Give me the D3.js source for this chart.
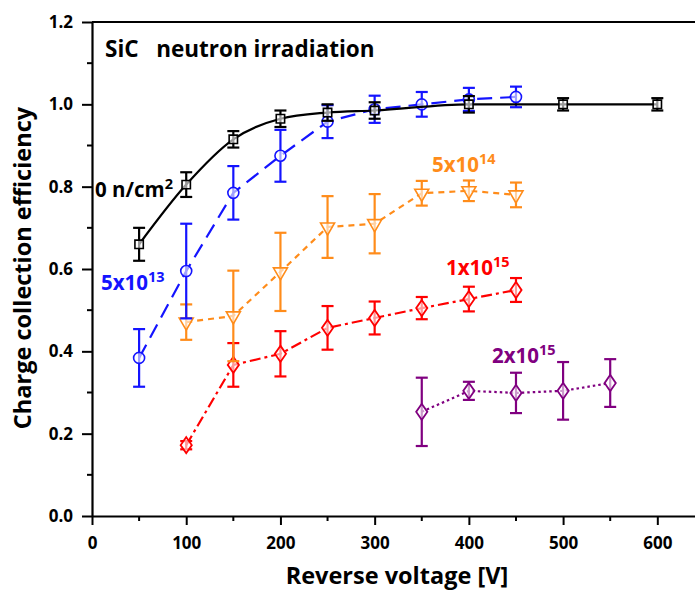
<!DOCTYPE html>
<html><head><meta charset="utf-8">
<script src="https://cdn.jsdelivr.net/npm/d3@7"></script>
<style>
body{margin:0;background:#fff;}
svg text{font-family:"Open Sans",Lato,sans-serif;font-weight:bold;}
</style></head>
<body><svg id="c" width="695" height="590"></svg>
<script>
// ---- data ----
const xTicks = [0,100,200,300,400,500,600];
const yTicks = [0.0,0.2,0.4,0.6,0.8,1.0,1.2];

const v0   = [50,100,150,200,250,300,400,500,600];
const cce0 = [0.66,0.805,0.915,0.965,0.98,0.985,1.0,1.0,1.0];
const err0 = [0.04,0.03,0.02,0.02,0.02,0.02,0.02,0.015,0.015];

const v13   = [50,100,150,200,250,300,350,400,450];
const cce13 = [0.384,0.595,0.785,0.875,0.958,0.988,1.0,1.012,1.018];
const err13 = [0.07,0.115,0.065,0.063,0.04,0.033,0.03,0.028,0.025];

const v14   = [100,150,200,250,300,350,400,450];
const cce14 = [0.471,0.486,0.593,0.702,0.71,0.784,0.79,0.78];
const err14 = [0.043,0.11,0.095,0.075,0.072,0.03,0.025,0.03];

const v15   = [100,150,200,250,300,350,400,450];
const cce15 = [0.172,0.367,0.394,0.457,0.481,0.505,0.527,0.549];
const err15 = [0.01,0.053,0.055,0.053,0.04,0.027,0.03,0.029];

const v2e15   = [350,400,450,500,550];
const cce2e15 = [0.253,0.304,0.299,0.304,0.323];
const err2e15 = [0.083,0.022,0.049,0.07,0.058];

const labelBase = ["0 n/cm","5x10","5x10","1x10","2x10"];
const labelSup  = ["2","13","14","15","15"];

// ---- chart ----
const svg = d3.select("#c");
const x = d3.scaleLinear().domain([0,640]).range([92,695]);
const y = d3.scaleLinear().domain([0,1.2]).range([516,22]);

// axes
const gx = svg.append("g").attr("transform","translate(0,516)")
  .call(d3.axisBottom(x).tickValues(xTicks).tickFormat(d3.format("d")).tickSize(9).tickSizeOuter(0).tickPadding(11));
const gy = svg.append("g").attr("transform","translate(92,0)")
  .call(d3.axisLeft(y).tickValues(yTicks).tickFormat(d3.format(".1f")).tickSize(10).tickSizeOuter(0).tickPadding(9));
[gx,gy].forEach(g=>{
  g.select(".domain").attr("stroke","#000").attr("stroke-width",2.2);
  g.selectAll(".tick line").attr("stroke","#000").attr("stroke-width",2);
  g.selectAll(".tick text").attr("fill","#000").style("font-size","17px");
});
gx.selectAll(".tick text").attr("y",21);
// minor ticks
const xMinor = d3.range(50,640,100);
const yMinor = d3.range(0.1,1.2,0.2);
svg.append("g").selectAll("line").data(xMinor).join("line")
  .attr("x1",d=>x(d)).attr("x2",d=>x(d)).attr("y1",516).attr("y2",521)
  .attr("stroke","#000").attr("stroke-width",2);
svg.append("g").selectAll("line").data(yMinor).join("line")
  .attr("y1",d=>y(d)).attr("y2",d=>y(d)).attr("x1",92).attr("x2",87)
  .attr("stroke","#000").attr("stroke-width",2);
// top frame
svg.append("line").attr("x1",x(0)).attr("x2",x(640)).attr("y1",y(1.2)).attr("y2",y(1.2))
  .attr("stroke","#000").attr("stroke-width",2.2);

// axis titles
svg.append("text").attr("x",397).attr("y",584).attr("text-anchor","middle")
  .style("font-size","23.5px").text("Reverse voltage [V]");
svg.append("text").attr("transform","translate(31,268) rotate(-90)").attr("text-anchor","middle")
  .style("font-size","23.5px").text("Charge collection efficiency");
svg.append("text").attr("x",105).attr("y",57).style("font-size","22.5px").attr("xml:space","preserve")
  .text("SiC   neutron irradiation");

// series
const series = [
  {v:v0, c:cce0, e:err0, color:"#000000", dash:null, curve:d3.curveMonotoneX, marker:"square"},
  {v:v13, c:cce13, e:err13, color:"#1414ff", dash:"15,8", curve:d3.curveLinear, marker:"circle"},
  {v:v14, c:cce14, e:err14, color:"#ff8c1a", dash:"6,5", curve:d3.curveLinear, marker:"tri"},
  {v:v15, c:cce15, e:err15, color:"#ff0000", dash:"11,4,3,4", curve:d3.curveLinear, marker:"diamond"},
  {v:v2e15, c:cce2e15, e:err2e15, color:"#800080", dash:"2.5,3", curve:d3.curveLinear, marker:"diamond"},
];
const capW = 6;
series.slice().reverse().forEach(s=>{
  const pts = s.v.map((d,i)=>({v:d,c:s.c[i],e:s.e[i]}));
  const g = svg.append("g");
  g.append("path").datum(pts)
    .attr("d", d3.line().x(d=>x(d.v)).y(d=>y(d.c)).curve(s.curve))
    .attr("fill","none").attr("stroke",s.color).attr("stroke-width",2.2)
    .attr("stroke-dasharray",s.dash);
  const eb = g.selectAll(".eb").data(pts).join("g");
  eb.append("line").attr("x1",d=>x(d.v)).attr("x2",d=>x(d.v))
    .attr("y1",d=>y(d.c-d.e)).attr("y2",d=>y(d.c+d.e)).attr("stroke",s.color).attr("stroke-width",2.2);
  eb.append("line").attr("x1",d=>x(d.v)-capW).attr("x2",d=>x(d.v)+capW)
    .attr("y1",d=>y(d.c-d.e)).attr("y2",d=>y(d.c-d.e)).attr("stroke",s.color).attr("stroke-width",2.2);
  eb.append("line").attr("x1",d=>x(d.v)-capW).attr("x2",d=>x(d.v)+capW)
    .attr("y1",d=>y(d.c+d.e)).attr("y2",d=>y(d.c+d.e)).attr("stroke",s.color).attr("stroke-width",2.2);
  let sym;
  if(s.marker==="square") sym = d3.symbol().type(d3.symbolSquare).size(70);
  else if(s.marker==="circle") sym = d3.symbol().type(d3.symbolCircle).size(95);
  else if(s.marker==="tri") sym = d3.symbol().type(d3.symbolTriangle).size(85);
  else sym = d3.symbol().type(d3.symbolDiamond).size(75);
  g.selectAll(".mk").data(pts).join("path")
    .attr("transform",d=>`translate(${x(d.v)},${y(d.c)})`+(s.marker==="tri"?" rotate(180)":"")+(s.marker==="diamond"?" scale(1.2,1)":""))
    .attr("d",sym()).attr("fill","#fff").attr("fill-opacity",0.6)
    .attr("stroke",s.color).attr("stroke-width",1.6);
});

// series labels
const labelPos = [[95,197],[101,290],[432,172],[446,275],[492,363]];
const labelColor = ["#000000","#1414ff","#ff8c1a","#ff0000","#800080"];
labelBase.forEach((b,i)=>{
  const t = svg.append("text").attr("x",labelPos[i][0]).attr("y",labelPos[i][1])
    .attr("fill",labelColor[i]).style("font-size","20.5px");
  t.append("tspan").text(b);
  t.append("tspan").attr("dy",-8).style("font-size","14.5px").text(labelSup[i]);
});
</script></body></html>
